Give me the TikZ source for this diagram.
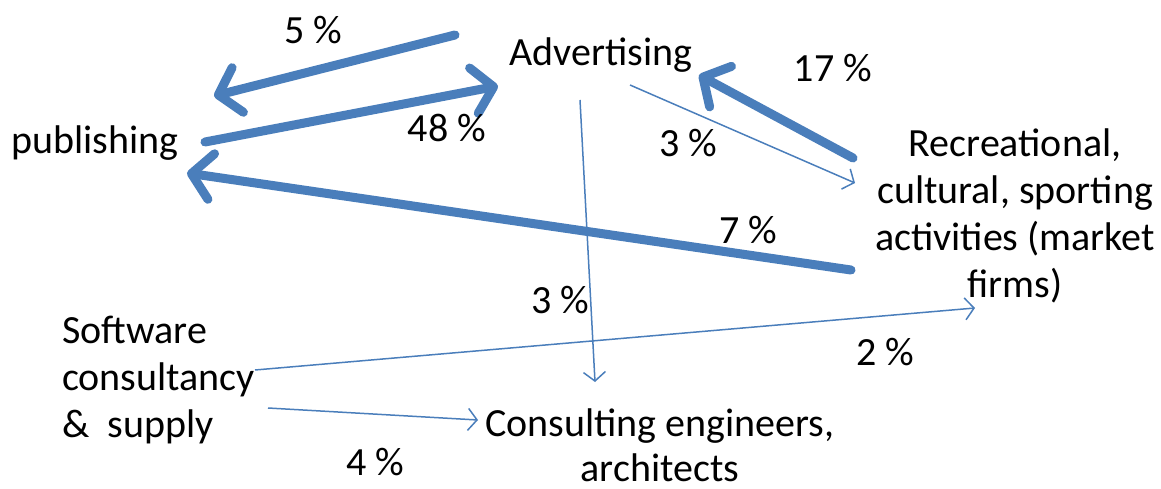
\documentclass[tikz,border=0pt]{standalone}
\usepackage{fontspec}
\setmainfont{Carlito}
\usetikzlibrary{arrows.meta}
\definecolor{cFlow}{HTML}{4A7EBB}
\tikzset{
  sector/.style={font=\fontsize{40}{47}\selectfont, inner sep=0pt, align=center},
  share/.style={font=\fontsize{40}{47}\selectfont, inner sep=0pt},
  bigflow/.style={draw=cFlow, line width=9pt, line cap=round,
    -{Straight Barb[length=20pt, width=46pt, round]}},
  smallflow/.style={draw=cFlow, line width=1.5pt,
    -{Straight Barb[length=9pt, width=22pt]}},
}
\begin{document}
\begin{tikzpicture}[x=1pt, y=-1pt]
\useasboundingbox (0,0) rectangle (1161,489);

% sectors
\node[sector] (adv) at (601,55) {Advertising};
\node[sector] (pub) at (95,143) {publishing};
\node[sector] (rec) at (1015,216) {Recreational,\\ cultural, sporting\\ activities (market\\ firms)};
\node[sector, anchor=west, align=left] (soft) at (62,380) {Software\\ consultancy\\ \&\ \ supply};
\node[sector] (cons) at (660,445) {Consulting engineers,\\[-2pt] architects};

% connector ends
\coordinate (a5s) at (455,35);   \coordinate (a5e) at (214,96);
\coordinate (a48s) at (205,142); \coordinate (a48e) at (498,86);
\coordinate (a17s) at (853,158); \coordinate (a17e) at (699,75);
\coordinate (a7s) at (851,270);  \coordinate (a7e) at (187,173);
\coordinate (b3s) at (630,85);   \coordinate (b3e) at (855,183);
\coordinate (c3s) at (580,100);  \coordinate (c3e) at (595,382);
\coordinate (d2s) at (255,370);  \coordinate (d2e) at (975,308);
\coordinate (d4s) at (268,408);  \coordinate (d4e) at (478,420);

\draw[bigflow] (a5s) -- (a5e);
\draw[bigflow] (a48s) -- (a48e);
\draw[bigflow] (a17s) -- (a17e);
\draw[bigflow] (a7s) -- (a7e);
\foreach \s/\e in {b3s/b3e,c3s/c3e,d2s/d2e,d4s/d4e}
  \draw[smallflow] (\s) -- (\e);

% shares
\node[share] (l5) at (313,30) {5 \%};
\node[share] (l48) at (447,128) {48 \%};
\node[share] (l17) at (833,68) {17 \%};
\node[share] (l3a) at (688,143) {3 \%};
\node[share] (l7) at (748,230) {7 \%};
\node[share] (l3b) at (560,300) {3 \%};
\node[share] (l2) at (885,352) {2 \%};
\node[share] (l4) at (375,462) {4 \%};
\end{tikzpicture}
\end{document}
